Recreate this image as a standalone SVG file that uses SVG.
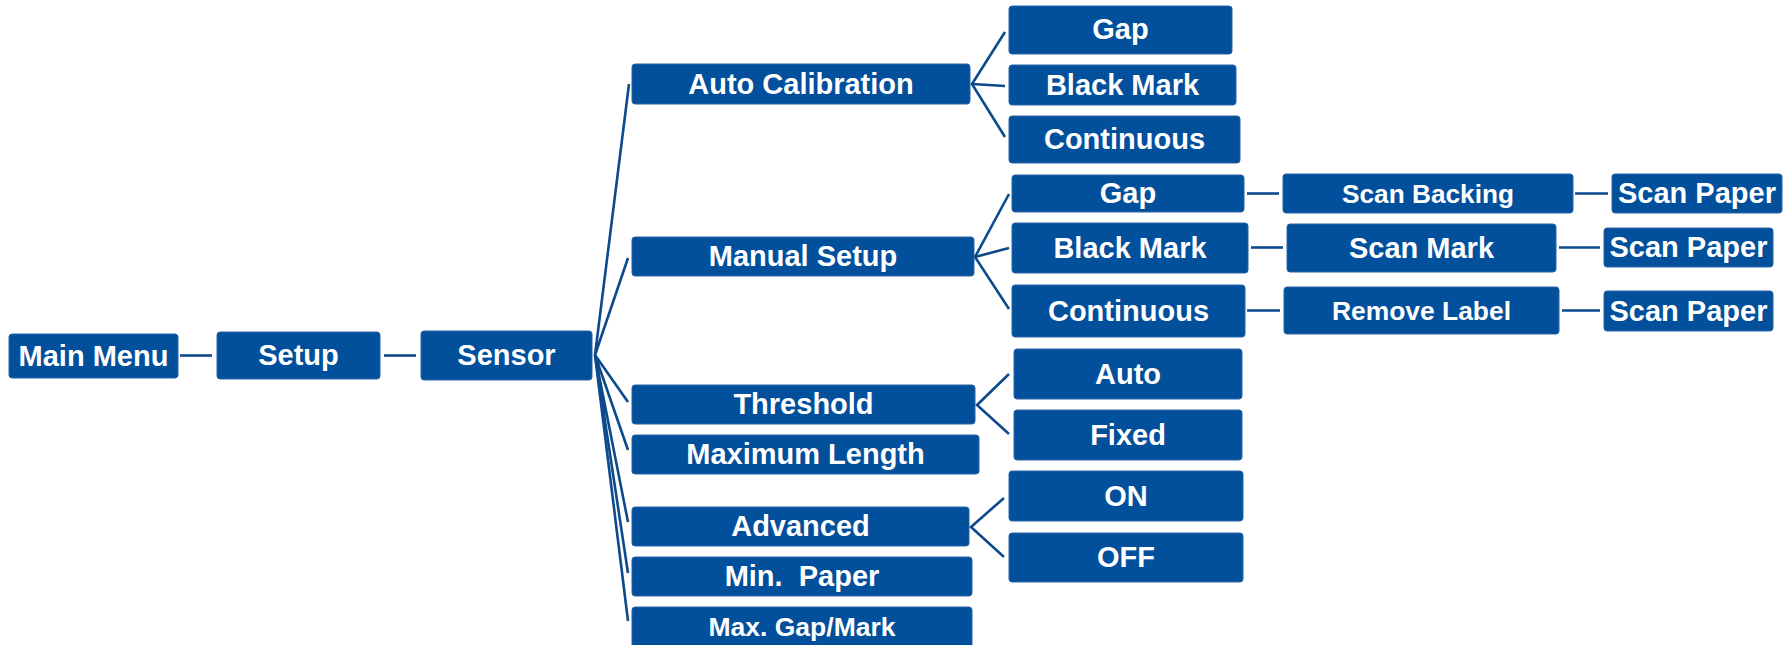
<svg xmlns="http://www.w3.org/2000/svg" width="1785" height="645" viewBox="0 0 1785 645">
<style>
.b{fill:#02509c;stroke:#2a62a6;stroke-width:1}
.t{fill:#ffffff;font-family:"Liberation Sans",Arial,sans-serif;font-weight:bold;font-size:29px;text-anchor:middle}
.s{font-size:26px}
.c{fill:none;stroke:#0c4a8c;stroke-width:2.6;stroke-linejoin:miter}
</style>
<rect width="1785" height="645" fill="#ffffff"/>
<g id="connectors">
<line class="c" x1="180" y1="355.5" x2="212" y2="355.5"/>
<line class="c" x1="384" y1="355.5" x2="416" y2="355.5"/>
<polyline class="c" points="629,84 595,355 628,258"/>
<polyline class="c" points="628,402 595,355 628,450"/>
<polyline class="c" points="628,522 595,355 628,573"/>
<polyline class="c" points="595,355 628,621"/>
<polyline class="c" points="1005,32 972,84 1005,137"/>
<line class="c" x1="972" y1="84" x2="1005" y2="86"/>
<polyline class="c" points="1009,194 975,257 1009,309"/>
<line class="c" x1="975" y1="257" x2="1009" y2="248"/>
<polyline class="c" points="1009,374 977,405 1009,434"/>
<polyline class="c" points="1004,498 971,527 1004,557"/>
<line class="c" x1="1247" y1="193.5" x2="1279" y2="193.5"/>
<line class="c" x1="1575" y1="193.5" x2="1608" y2="193.5"/>
<line class="c" x1="1251" y1="247.5" x2="1283" y2="247.5"/>
<line class="c" x1="1559" y1="247.5" x2="1600" y2="247.5"/>
<line class="c" x1="1247" y1="310.5" x2="1280" y2="310.5"/>
<line class="c" x1="1562" y1="310.5" x2="1600" y2="310.5"/>
</g>
<g id="main-menu"><rect class="b" x="9" y="334" width="169" height="44" rx="3"/><text class="t" x="93.5" y="365.5">Main Menu</text></g>
<g id="setup"><rect class="b" x="217" y="332" width="163" height="47" rx="3"/><text class="t" x="298.5" y="365">Setup</text></g>
<g id="sensor"><rect class="b" x="421" y="331" width="171" height="49" rx="3"/><text class="t" x="506.5" y="365">Sensor</text></g>
<g id="auto-calibration"><rect class="b" x="632" y="64" width="338" height="40" rx="3"/><text class="t" x="801" y="93.5">Auto Calibration</text></g>
<g id="ac-gap"><rect class="b" x="1009" y="6" width="223" height="48" rx="3"/><text class="t" x="1120.5" y="39">Gap</text></g>
<g id="ac-black-mark"><rect class="b" x="1009" y="65" width="227" height="40" rx="3"/><text class="t" x="1122.5" y="94.5">Black Mark</text></g>
<g id="ac-continuous"><rect class="b" x="1009" y="116" width="231" height="47" rx="3"/><text class="t" x="1124.5" y="149">Continuous</text></g>
<g id="manual-setup"><rect class="b" x="632" y="237" width="342" height="39" rx="3"/><text class="t" x="803" y="266">Manual Setup</text></g>
<g id="ms-gap"><rect class="b" x="1012" y="175" width="232" height="37" rx="3"/><text class="t" x="1128" y="203">Gap</text></g>
<g id="ms-black-mark"><rect class="b" x="1012" y="223" width="236" height="50" rx="3"/><text class="t" x="1130" y="257.5">Black Mark</text></g>
<g id="ms-continuous"><rect class="b" x="1012" y="285" width="233" height="52" rx="3"/><text class="t" x="1128.5" y="320.5">Continuous</text></g>
<g id="scan-backing"><rect class="b" x="1283" y="174" width="290" height="39" rx="3"/><text class="t s" x="1428" y="202.5" textLength="172" lengthAdjust="spacingAndGlyphs">Scan Backing</text></g>
<g id="scan-mark"><rect class="b" x="1287" y="224" width="269" height="48" rx="3"/><text class="t" x="1421.5" y="257.5">Scan Mark</text></g>
<g id="remove-label"><rect class="b" x="1284" y="287" width="275" height="47" rx="3"/><text class="t s" x="1421.5" y="319.5" textLength="179" lengthAdjust="spacingAndGlyphs">Remove Label</text></g>
<g id="scan-paper-1"><rect class="b" x="1612" y="174" width="170" height="39" rx="3"/><text class="t" x="1697" y="203">Scan Paper</text></g>
<g id="scan-paper-2"><rect class="b" x="1604" y="228" width="169" height="39" rx="3"/><text class="t" x="1688.5" y="257">Scan Paper</text></g>
<g id="scan-paper-3"><rect class="b" x="1604" y="291" width="169" height="40" rx="3"/><text class="t" x="1688.5" y="320.5">Scan Paper</text></g>
<g id="threshold"><rect class="b" x="632" y="385" width="343" height="39" rx="3"/><text class="t" x="803.5" y="414">Threshold</text></g>
<g id="maximum-length"><rect class="b" x="632" y="435" width="347" height="39" rx="3"/><text class="t" x="805.5" y="464">Maximum Length</text></g>
<g id="auto"><rect class="b" x="1014" y="349" width="228" height="50" rx="3"/><text class="t" x="1128" y="383.5">Auto</text></g>
<g id="fixed"><rect class="b" x="1014" y="410" width="228" height="50" rx="3"/><text class="t" x="1128" y="444.5">Fixed</text></g>
<g id="advanced"><rect class="b" x="632" y="507" width="337" height="39" rx="3"/><text class="t" x="800.5" y="536">Advanced</text></g>
<g id="on"><rect class="b" x="1009" y="471" width="234" height="50" rx="3"/><text class="t" x="1126" y="505.5">ON</text></g>
<g id="off"><rect class="b" x="1009" y="533" width="234" height="49" rx="3"/><text class="t" x="1126" y="567">OFF</text></g>
<g id="min-paper"><rect class="b" x="632" y="557" width="340" height="39" rx="3"/><text class="t" x="802" y="586" xml:space="preserve">Min.  Paper</text></g>
<g id="max-gap-mark"><rect class="b" x="632" y="607" width="340" height="44" rx="3"/><text class="t" x="802" y="636" style="font-size:26.5px">Max. Gap/Mark</text></g>
</svg>
